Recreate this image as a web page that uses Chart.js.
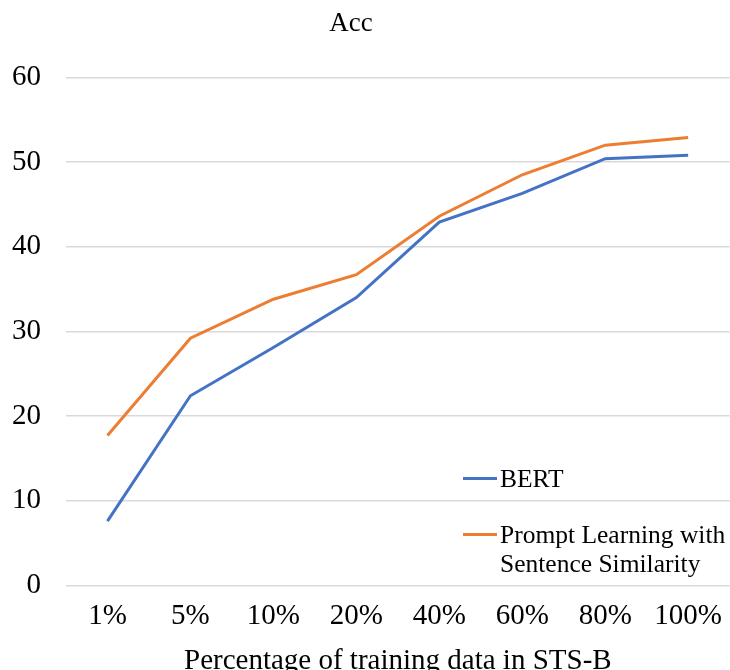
<!DOCTYPE html>
<html>
<head>
<meta charset="utf-8">
<script src="https://cdn.jsdelivr.net/npm/chart.js@4"></script>
<style>
  body { margin: 0; background: #fff; }
  #wrap { position: relative; width: 730px; height: 670px; overflow: hidden; }
  #legend { position: absolute; left: 463px; top: 464px; font-family: "Liberation Serif", serif; font-size: 25.5px; color: #000; }
  .item { display: flex; align-items: flex-start; margin-bottom: 27px; }
  .swatch { width: 34px; height: 3px; margin-top: 13px; margin-right: 3px; flex: none; }
  .label { line-height: 29px; white-space: nowrap; }
</style>
</head>
<body>
<div id="wrap">
  <canvas id="chart1"></canvas>
  <div id="legend"></div>
</div>
<script>
// data
var categories = ["1%", "5%", "10%", "20%", "40%", "60%", "80%", "100%"];
var bertValues = [7.6, 22.4, 28.1, 34.0, 42.9, 46.3, 50.4, 50.8];
var promptValues = [17.7, 29.2, 33.8, 36.7, 43.6, 48.5, 52.0, 52.9];
var seriesNames = ["BERT", "Prompt Learning with\nSentence Similarity"];
var seriesColors = ['#4472c4', '#ed7d31'];

var font = "'Liberation Serif', 'Times New Roman', serif";

// the title in the original sits a bit left of the canvas centre
var titleShift = {
    id: 'titleShift',
    afterLayout: function (chart) {
        if (chart.titleBlock) chart.titleBlock.right -= 15;
    }
};

var ctxChart1 = document.getElementById('chart1').getContext('2d');
var chart1 = new Chart(ctxChart1, {
    type: 'line',
    plugins: [titleShift],
    data: {
        labels: categories,
        datasets: [{
            label: seriesNames[0],
            data: bertValues,
            borderColor: seriesColors[0],
            backgroundColor: seriesColors[0],
            borderWidth: 3,
            pointRadius: 0,
            tension: 0
        }, {
            label: seriesNames[1],
            data: promptValues,
            borderColor: seriesColors[1],
            backgroundColor: seriesColors[1],
            borderWidth: 3,
            pointRadius: 0,
            tension: 0
        }]
    }, options: {
        responsive: true,
        maintainAspectRatio: false,
        animation: false,
        layout: { padding: { left: -13, right: 0, top: 8, bottom: -3 } },
        plugins: {
            legend: { display: false },
            tooltip: { enabled: false },
            title: {
                display: true,
                text: 'Acc',
                color: '#000',
                font: { family: font, size: 27, weight: 'normal' },
                padding: { top: 0, bottom: 37 }
            }
        }, scales: {
            x: {
                offset: true,
                grid: { display: false, drawTicks: false },
                border: { display: false },
                ticks: { color: '#000', font: { family: font, size: 29, lineHeight: 1.6 }, padding: 8 },
                title: {
                    display: true,
                    text: 'Percentage of training data in STS-B',
                    color: '#000',
                    font: { family: font, size: 29, lineHeight: 0.8 },
                    padding: { top: 2, bottom: 0 }
                }
            },
            y: {
                min: 0,
                max: 60,
                ticks: { stepSize: 10, color: '#000', font: { family: font, size: 29 }, padding: 25 },
                grid: { color: '#d9d9d9', lineWidth: 1.5, drawTicks: false },
                border: { display: false }
            }
        }
    },
});

// legend inside the plot, built from the datasets
var legendEl = document.getElementById('legend');
chart1.data.datasets.forEach(function (ds) {
    var item = document.createElement('div');
    item.className = 'item';
    var sw = document.createElement('div');
    sw.className = 'swatch';
    sw.style.background = ds.borderColor;
    var lab = document.createElement('div');
    lab.className = 'label';
    lab.innerHTML = ds.label.split('\n').join('<br>');
    item.appendChild(sw);
    item.appendChild(lab);
    legendEl.appendChild(item);
});
</script>
</body>
</html>
